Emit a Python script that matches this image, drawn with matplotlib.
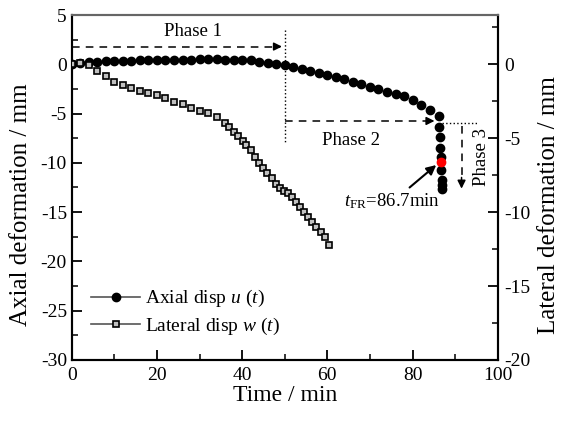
import numpy as np
import matplotlib
matplotlib.use('Agg')
from matplotlib import pyplot as plt
from matplotlib.lines import Line2D

plt.rcParams['font.family'] = ['Liberation Serif', 'DejaVu Serif']
plt.rcParams['mathtext.fontset'] = 'custom'
plt.rcParams['mathtext.rm'] = 'Liberation Serif'
plt.rcParams['mathtext.it'] = 'Liberation Serif:italic'
plt.rcParams['axes.unicode_minus'] = False

# axial displacement u(t), left axis
axial_t = [0, 2, 4, 6, 8, 10, 12, 14, 16, 18, 20, 22, 24, 26, 28, 30, 32, 34, 36, 38,
           40, 42, 44, 46, 48, 50, 52, 54, 56, 58, 60, 62, 64, 66, 68, 70, 72, 74, 76,
           78, 80, 82, 84, 86.2, 86.3, 86.4, 86.45, 86.6, 86.75, 86.8, 86.85, 86.9]
axial_u = [0.0, 0.1, 0.2, 0.25, 0.3, 0.33, 0.36, 0.38, 0.4, 0.42, 0.44, 0.46, 0.47, 0.48,
           0.48, 0.49, 0.49, 0.49, 0.48, 0.47, 0.46, 0.42, 0.25, 0.12, 0.03, -0.05, -0.24,
           -0.48, -0.65, -0.85, -1.09, -1.32, -1.49, -1.76, -2.0, -2.34, -2.54, -2.78,
           -3.01, -3.18, -3.66, -4.1, -4.64, -5.25, -6.33, -7.38, -8.45, -9.37, -10.72,
           -11.74, -12.25, -12.68]
t_fr, u_fr = 86.7, -9.9

# lateral displacement w(t), right axis
lat_t = [0, 2, 4, 6, 8, 10, 12, 14, 16, 18, 20, 22, 24, 26, 28, 30, 32, 34,
         36, 37, 38, 39, 40.1, 41, 42.1, 43, 44, 44.9, 45.9, 46.9, 47.9, 48.8, 49.8,
         50.8, 51.6, 52.6, 53.5, 54.5, 55.5, 56.5, 57.4, 58.4, 59.4, 60.4]
lat_w = [0.0, 0.11, -0.05, -0.43, -0.79, -1.18, -1.4, -1.62, -1.78, -1.96, -2.08, -2.3,
         -2.53, -2.69, -2.93, -3.14, -3.31, -3.54,
         -3.97, -4.22, -4.56, -4.85, -5.17, -5.46, -5.79, -6.25, -6.65, -7.03, -7.37,
         -7.71, -8.09, -8.38, -8.55, -8.72, -8.99, -9.29, -9.63, -9.97, -10.3, -10.64,
         -10.98, -11.32, -11.66, -12.2]

fig = plt.figure(figsize=(5.65, 4.23), dpi=100)
ax = fig.add_axes([0.127, 0.149, 0.754, 0.8155])
ax2 = ax.twinx()

ax.plot(axial_t, axial_u, 'o', color='k', ms=6, zorder=5)
ax.plot([t_fr], [u_fr], 'o', color='red', ms=6, zorder=6)
ax2.plot(lat_t, lat_w, 's', mfc='#c0c0c0', mec='k', mew=1.2, ms=4.8, zorder=4)

ax.set_xlim(0, 100)
ax.set_ylim(-30, 5)
ax2.set_ylim(-20, 10 / 3)
ax.set_xticks(np.arange(0, 101, 20))
ax.set_xticks(np.arange(10, 100, 20), minor=True)
ax.set_yticks(np.arange(-30, 6, 5))
ax.set_yticks(np.arange(-27.5, 5, 5), minor=True)
ax2.set_yticks(np.arange(-20, 1, 5))
ax2.set_yticks(np.arange(-17.5, 3, 5), minor=True)

for a in (ax, ax2):
    a.tick_params(which='major', direction='in', length=7, width=1.3, labelsize=14)
    a.tick_params(which='minor', direction='in', length=4, width=1.1)
    for s in a.spines.values():
        s.set_linewidth(1.5)
    a.spines['top'].set_color('#666666')
ax.tick_params(axis='x', top=False, which='both', pad=5)
ax2.tick_params(axis='y', pad=5)

ax.set_xlabel('Time / min', fontsize=17, labelpad=1)
ax.set_ylabel('Axial deformation / mm', fontsize=18)
ax2.set_ylabel('Lateral deformation / mm', fontsize=18)
ax.yaxis.set_label_coords(-0.094, 0.45)
ax2.yaxis.set_label_coords(1.094, 0.45)

# phase annotations
ax.plot([0, 48.8], [1.8, 1.8], '--', color='k', lw=1.1, dashes=(5, 4))
ax.annotate('', xy=(50, 1.8), xytext=(47.5, 1.8),
            arrowprops=dict(arrowstyle='-|>', color='k', lw=1.1, mutation_scale=12))
ax.text(28.5, 3.3, 'Phase 1', fontsize=13.5, ha='center', va='center')
ax.plot([50, 50], [3.5, -8.0], ':', color='k', lw=1.0)

ax.plot([50, 84.6], [-5.75, -5.75], '--', color='k', lw=1.1, dashes=(5, 4))
ax.annotate('', xy=(85.8, -5.75), xytext=(83.5, -5.75),
            arrowprops=dict(arrowstyle='-|>', color='k', lw=1.1, mutation_scale=12))
ax.text(65.5, -7.7, 'Phase 2', fontsize=13.5, ha='center', va='center')
ax.plot([86.8, 95.4], [-6.0, -6.0], ':', color='k', lw=1.0)

ax.plot([91.5, 91.5], [-6.3, -11.8], '--', color='k', lw=1.1, dashes=(5, 4))
ax.annotate('', xy=(91.5, -12.9), xytext=(91.5, -11.2),
            arrowprops=dict(arrowstyle='-|>', color='k', lw=1.1, mutation_scale=12))
ax.text(96.2, -9.4, 'Phase 3', fontsize=13.5, ha='center', va='center', rotation=90)

ax.annotate('', xy=(86.3, -9.95), xytext=(79.3, -12.5),
            arrowprops=dict(arrowstyle='-|>', color='k', lw=1.5, mutation_scale=14,
                            shrinkA=0, shrinkB=3))
ax.text(64.0, -13.9, r'$t_{\mathrm{FR}}$=86.7min', fontsize=13.5, ha='left', va='center')

handles = [Line2D([], [], color='#555555', lw=1.2, marker='o', mfc='k', mec='k', ms=6),
           Line2D([], [], color='#555555', lw=1.2, marker='s', mfc='#c0c0c0', mec='k',
                  mew=1.2, ms=4.8)]
labels = ['Axial disp $u$ ($t$)', 'Lateral disp $w$ ($t$)']
ax.legend(handles, labels, loc='lower left', bbox_to_anchor=(0.005, 0.015), frameon=False,
          fontsize=14, handlelength=2.5, handletextpad=0.25, labelspacing=0.35)

fig.savefig('out.png', dpi=100)
